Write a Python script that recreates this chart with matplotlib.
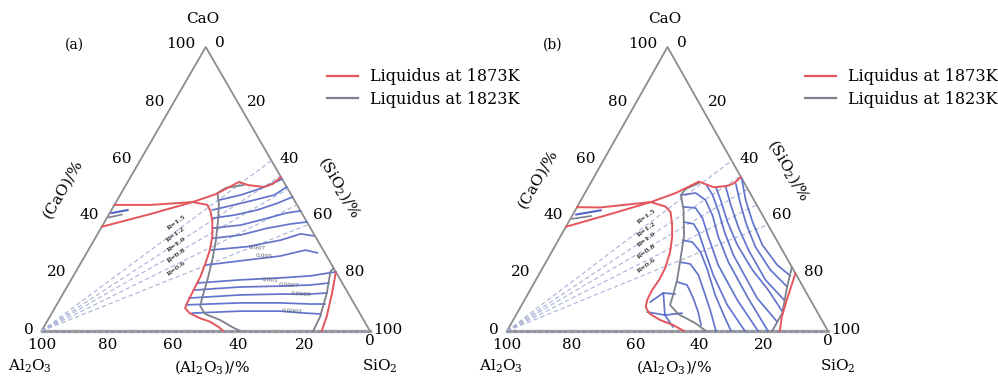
import numpy as np
import matplotlib
matplotlib.use('Agg')
import matplotlib.pyplot as plt

plt.rcParams['font.family'] = 'DejaVu Serif'
plt.rcParams['mathtext.fontset'] = 'dejavuserif'

RED = '#e4555c'
GREY = '#7b808a'
BLUE = '#5265c8'
EDGE = '#8d8d8d'
RAY = '#a9b1d6'

# all compositions are (SiO2 %, CaO %), Al2O3 is the balance
R_VALUES = [1.5, 1.2, 1.0, 0.8, 0.6]
R_TEXT = ['R=1.5', 'R=1.2', 'R=1.0', 'R=0.8', 'R=0.6']

# ---- (a)
a_red_top = [(0, 44.4), (11, 44.4), (23.3, 45.4), (29, 48.2), (33.9, 52.5), (37.1, 51.4),
             (42.3, 50.7), (44.5, 51.8), (45.8, 54.2)]
a_red_wedge = [(0, 36.7), (12.6, 41.2), (23.3, 45.4)]
a_red_main = [(23.3, 45.4), (28.3, 44.4), (30.5, 42.0), (32.8, 38.4), (35.4, 33.2), (37.0, 28.5),
              (38.0, 23.8), (38.8, 19.1), (39.1, 14.4), (39.4, 9.75), (39.7, 8.0), (42.1, 6.2),
              (46.0, 4.5), (49.6, 3.3), (53.1, 1.5), (55.3, 0)]
a_red_right = [(79.2, 20.8), (81.8, 13.3), (84.3, 5.0), (85.3, 0)]
a_grey_main = [(35.9, 51.4), (30.9, 50.4), (29.3, 48.6), (31.8, 44.4), (34.2, 39.1), (37.1, 32.0),
               (39.5, 25.0), (41.5, 18.0), (43.1, 11.6), (43.9, 8.8), (46.8, 6.0), (52.4, 3.9),
               (57.3, 1.4), (60.5, 0)]
a_grey_right = [(77.8, 22.2), (77.5, 20.9), (80.2, 13.3), (82.3, 5.0), (82.7, 0)]
a_blue = [
    [(31.0, 46.1), (36.7, 47.9), (41.7, 50.2), (46.5, 53.5)],
    [(30.7, 42.6), (36.4, 44.4), (41.7, 46.1), (46.9, 47.9), (49.3, 50.7)],
    [(32.2, 39.7), (38.2, 40.8), (44.4, 42.6), (49.3, 45.0), (52.8, 47.2)],
    [(33.9, 36.2), (42.0, 37.3), (48.9, 39.7), (53.6, 41.5), (57.7, 42.3)],
    [(35.7, 32.6), (43.7, 33.8), (50.7, 36.2), (57.0, 37.7), (61.6, 38.4)],
    [(37.2, 28.5), (47.8, 29.7), (56.8, 32.0), (61.8, 34.2), (66.1, 33.5)],
    [(38.3, 23.2), (50.1, 25.0), (59.5, 26.4), (66.1, 28.5), (70.3, 27.5)],
    [(39.0, 16.9), (51.5, 18.0), (63.3, 18.7), (72.1, 19.4), (79.1, 20.8)],
    [(39.0, 14.4), (52.8, 15.5), (64.8, 15.8), (73.7, 16.2), (79.1, 16.9)],
    [(39.1, 11.6), (54.2, 12.7), (66.2, 13.0), (75.3, 13.0), (80.3, 13.4)],
    [(39.5, 9.2), (55.5, 9.9), (67.7, 9.9), (77.0, 9.5), (81.6, 9.5)],
    [(42.7, 6.3), (57.0, 7.0), (69.1, 7.0), (77.1, 6.3), (82.1, 6.0)],
]
a_blue_wedge = [[(0.5, 41.5), (5.0, 42.6)]]
a_grey_wedge = [[(0.5, 40.0), (4.0, 41.0)]]
a_iso_text = ['0.007', '0.005', '0.001', '0.0007', '0.0005', '0.0003']
a_iso_pos = [(51.1, 29.1), (54.6, 26.2), (60.7, 18.0), (67.3, 16.0), (72.6, 12.8), (72.9, 6.8)]

# ---- (b)
b_red_top = [(0, 43.6), (7.4, 43.5), (22.1, 45.4), (28.3, 48.6), (33.5, 52.6), (36.8, 51.4),
             (39.2, 50.6), (43.1, 51.1), (44.7, 52.0), (45.8, 54.2)]
b_red_wedge = [(0, 36.7), (11.7, 41.2), (22.1, 45.4)]
b_red_main = [(22.1, 45.4), (27.5, 43.8), (30.0, 41.9), (32.8, 37.3), (34.9, 33.1), (36.9, 27.8),
              (38.2, 22.2), (38.4, 18.0), (38.0, 14.4), (38.2, 10.9), (39.0, 8.45), (41.2, 6.2),
              (45.7, 3.9), (50.7, 2.1), (55.1, 0)]
b_red_right = [(79.7, 20.3), (81.7, 10.9), (83.1, 5.0), (85.0, 0)]
b_grey_main = [(33.7, 52.1), (30.7, 50.0), (30.2, 47.9), (33.7, 42.6), (38.4, 33.5), (41.5, 25.0),
               (44.0, 18.0), (45.4, 12.7), (46.2, 9.2), (50.3, 6.0), (57.2, 2.8), (62.0, 0)]
b_grey_right = [(77.5, 22.5), (79.5, 15.5), (82.6, 6.3), (82.6, 0)]
b_blue = [
    [(44.4, 17.25), (48.0, 16.2), (52.2, 11.6), (56.2, 6.7), (59.4, 2.1)],
    [(41.6, 24.3), (45.3, 23.6), (49.8, 19.7), (54.6, 13.7), (59.6, 7.4), (65.1, 0)],
    [(38.7, 32.0), (42.1, 31.3), (46.4, 27.8), (51.7, 21.5), (58.5, 12.7), (65.0, 5.3), (69.8, 0)],
    [(35.8, 38.4), (39.3, 37.7), (42.2, 34.9), (47.3, 28.5), (54.4, 19.7), (64.0, 9.2), (74.1, 0)],
    [(33.2, 43.7), (37.1, 43.3), (41.0, 39.8), (46.2, 33.1), (54.2, 23.2), (66.3, 10.9), (78.2, 0)],
    [(30.5, 47.9), (34.5, 48.6), (38.8, 46.1), (43.6, 40.8), (49.3, 33.1), (56.8, 24.3),
     (69.3, 11.6), (81.3, 0)],
    [(36.7, 51.1), (40.1, 47.9), (45.0, 41.9), (50.3, 34.9), (57.1, 26.8), (72.1, 11.6), (82.6, 3.2)],
    [(39.7, 50.7), (43.5, 46.1), (49.5, 38.4), (56.6, 30.3), (65.7, 21.5), (74.2, 14.4), (82.2, 7.0)],
    [(42.8, 50.7), (47.5, 44.4), (54.0, 36.3), (61.0, 28.5), (71.5, 18.0), (80.9, 10.9)],
    [(45.4, 51.8), (50.6, 44.4), (56.0, 37.3), (62.6, 29.6), (71.3, 21.5), (79.6, 15.5)],
    [(46.4, 53.5), (51.3, 46.1), (57.3, 38.4), (64.4, 30.3), (72.6, 23.2), (78.6, 19.4)],
    [(39.5, 10.2), (42.0, 13.4), (45.9, 13.0)],
    [(42.0, 13.4), (46.4, 5.6)],
    [(40.3, 6.7), (46.4, 5.6), (51.4, 6.3)],
    [(46.4, 5.6), (51.0, 1.4)],
]
b_blue_wedge = [[(1.0, 41.0), (8.0, 42.5)]]
b_grey_wedge = [[(0.5, 39.5), (6.0, 40.5)]]

TICKS = [0, 20, 40, 60, 80, 100]


def xy(pts):
    p = np.asarray(pts, float) / 100.0
    return p[:, 0] + 0.5 * p[:, 1], p[:, 1]


def line(ax, pts, **kw):
    x, y = xy(pts)
    ax.plot(x, y, clip_on=False, solid_capstyle='round', solid_joinstyle='round', **kw)


def draw_panel(ax, tag, red_lines, grey_lines, blue_lines, blue_w, grey_w, iso_text, iso_pos,
               r_x, sio2_title, cao_title, al_x, leg_anchor):
    ax.set_xlim(0, 1)
    ax.set_ylim(0, 1)
    ax.axis('off')

    # frame
    ax.plot([0, 0.5, 1], [0, 1, 0], color=EDGE, lw=1.3, clip_on=False)
    ax.plot([0, 1], [0, 0], color='#a3a3a3', lw=2.4, clip_on=False)
    ax.plot([0, 1], [0, 0], color='#7d84a6', lw=0.9, ls=(0, (3, 2)), clip_on=False)

    # basicity rays from the Al2O3 corner
    for R, txt in zip(R_VALUES, R_TEXT):
        s, c = 100 / (1 + R), 100 * R / (1 + R)
        ex, ey = xy([(s, c)])
        ax.plot([0, ex[0]], [0, ey[0]], color=RAY, lw=0.8, ls=(0, (4, 2.5)), clip_on=False)
        t = r_x / ex[0]
        ax.annotate(txt, (r_x, t * ey[0]), xytext=(0, 9), textcoords='offset pixels',
                    fontsize=4.6, fontweight='bold', color='#3a3a3a', rotation=36,
                    ha='center', va='center')

    for pts in blue_lines:
        line(ax, pts, color=BLUE, lw=1.25, alpha=0.9)
    for pts in blue_w:
        line(ax, pts, color=BLUE, lw=1.5)
    for pts in grey_w:
        line(ax, pts, color=GREY, lw=1.2)
    for pts in grey_lines:
        line(ax, pts, color=GREY, lw=1.3)
    for pts in red_lines:
        line(ax, pts, color=RED, lw=1.4)

    for txt, p in zip(iso_text, iso_pos):
        x, y = xy([p])
        ax.text(x[0], y[0], txt, fontsize=4.2, color='#555a66', rotation=-4,
                ha='center', va='center')

    # scale labels on the three edges
    for v in TICKS:
        x, y = xy([(0, v)])
        if v == 100:
            off = (-25, 3)
        elif v == 0:
            off = (-13, 1)
        else:
            off = (-18, 2)
        ax.annotate(str(v), (x[0], y[0]), xytext=off, textcoords='offset pixels',
                    fontsize=11, ha='center', va='center')
        x, y = xy([(v, 100 - v)])
        off = (14, 4) if v == 0 else ((18, 1) if v == 100 else (18, 2))
        ax.annotate(str(v), (x[0], y[0]), xytext=off, textcoords='offset pixels',
                    fontsize=11, ha='center', va='center')
        x, y = xy([(100 - v, 0)])
        off = (0, -10) if v == 0 else (0, -14)
        ax.annotate(str(v), (x[0], y[0]), xytext=off, textcoords='offset pixels',
                    fontsize=11, ha='center', va='center')

    ax.text(0.49, 1.098, 'CaO', fontsize=11, ha='center', va='center')
    ax.text(al_x, -0.126, r'$\mathregular{Al_2O_3}$', fontsize=11, ha='center', va='center')
    ax.text(1.03, -0.126, r'$\mathregular{SiO_2}$', fontsize=11, ha='center', va='center')
    ax.text(0.52, -0.126, r'$\mathregular{(Al_2O_3)/\%}$', fontsize=11, ha='center', va='center')
    ax.text(cao_title[0], cao_title[1], r'$\mathregular{(CaO)/\%}$', fontsize=11,
            rotation=60, ha='center', va='center')
    ax.text(sio2_title[0], sio2_title[1], r'$\mathregular{(SiO_2)/\%}$', fontsize=11,
            rotation=-60, ha='center', va='center')
    ax.text(tag[1], 1.007, tag[0], fontsize=10, ha='center', va='center')

    h1, = ax.plot([], [], color=RED, lw=1.6)
    h2, = ax.plot([], [], color=GREY, lw=1.6)
    leg = ax.legend([h1, h2], ['Liquidus at 1873K', 'Liquidus at 1823K'], loc='upper left',
                    bbox_to_anchor=leg_anchor, frameon=False, fontsize=11.5,
                    handlelength=1.95, handletextpad=0.75, labelspacing=0.33, borderpad=0,
                    borderaxespad=0)
    return leg


fig = plt.figure(figsize=(9.98, 3.76), dpi=100)
fig.patch.set_facecolor('white')
ax_a = fig.add_axes([41.5 / 998, 45 / 376, 328.5 / 998, 284 / 376])
ax_b = fig.add_axes([507 / 998, 45 / 376, 321 / 998, 284 / 376])

draw_panel(ax_a, ('(a)', 0.099),
           [a_red_top, a_red_wedge, a_red_main, a_red_right],
           [a_grey_main, a_grey_right], a_blue, a_blue_wedge, a_grey_wedge,
           a_iso_text, a_iso_pos, 0.41, (0.909, 0.508), (0.066, 0.496), -0.035,
           (0.869, 0.925))
draw_panel(ax_b, ('(b)', 0.143),
           [b_red_top, b_red_wedge, b_red_main, b_red_right],
           [b_grey_main, b_grey_right], b_blue, b_blue_wedge, b_grey_wedge,
           [], [], 0.435, (0.876, 0.567), (0.0975, 0.532), -0.02,
           (0.928, 0.925))

fig.savefig('out.png', dpi=100, facecolor='white')
